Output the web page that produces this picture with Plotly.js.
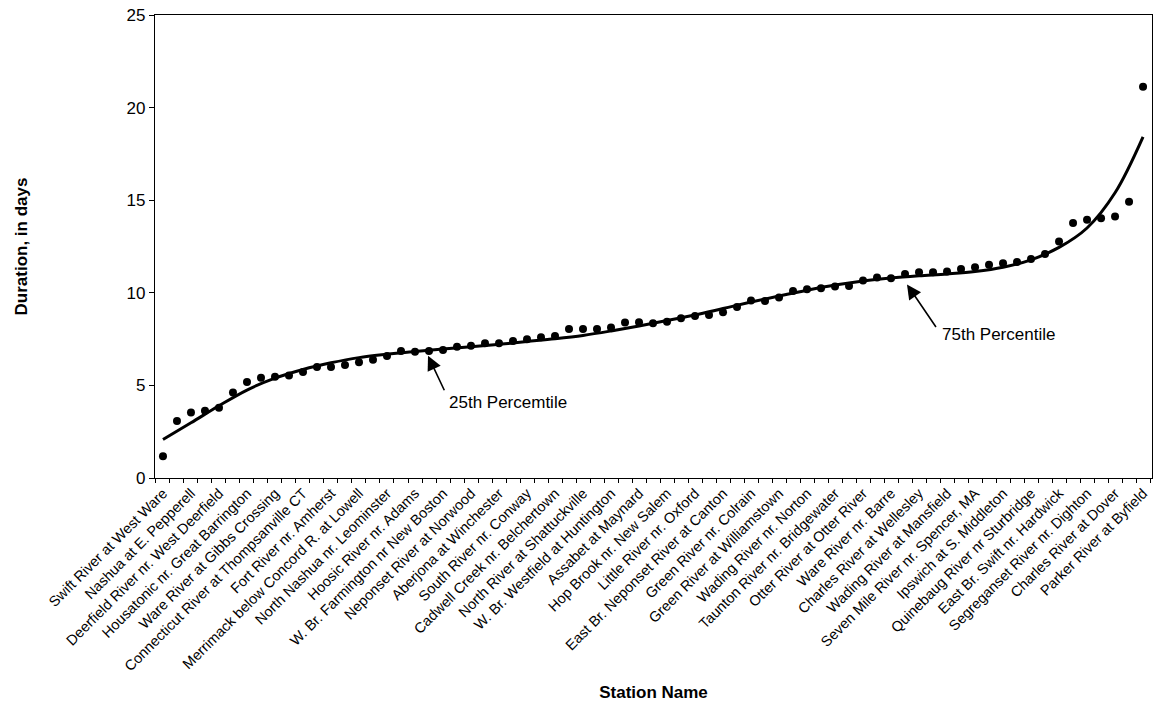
<!DOCTYPE html>
<html>
<head>
<meta charset="utf-8">
<script src="https://cdn.plot.ly/plotly-3.0.1.min.js"></script>
<style>html,body{margin:0;padding:0;background:#fff;}#chart{width:1155px;height:707px;}</style>
</head>
<body>
<div id="chart"></div>
<script>
// Labeled stations (every other station on the x axis carries a label)
const stationLabels = [
  "Swift River at West Ware", "Nashua at E. Pepperell", "Deerfield River nr. West Deerfield",
  "Housatonic nr. Great Barrington", "Ware River at Gibbs Crossing", "Connecticut River at Thompsanville CT",
  "Fort River nr. Amherst", "Merrimack below Concord R. at Lowell", "North Nashua nr. Leominster",
  "Hoosic River nr. Adams", "W. Br. Farmington nr New Boston", "Neponset River at Norwood",
  "Aberjona at Winchester", "South River nr. Conway", "Cadwell Creek nr. Belchertown",
  "North River at Shattuckville", "W. Br. Westfield at Huntington", "Assabet at Maynard",
  "Hop Brook nr. New Salem", "Little River nr. Oxford", "East Br. Neponset River at Canton",
  "Green River nr. Colrain", "Green River at Williamstown", "Wading River nr. Norton",
  "Taunton River nr. Bridgewater", "Otter River at Otter River", "Ware River nr. Barre",
  "Charles River at Wellesley", "Wading River at Mansfield", "Seven Mile River nr. Spencer, MA",
  "Ipswich at S. Middleton", "Quinebaug River nr Sturbridge", "East Br. Swift nr. Hardwick",
  "Segreganset River nr. Dighton", "Charles River at Dover", "Parker River at Byfield"
];

// Duration, in days, for each of the 71 stations (in rank order)
const durations = [
  1.17, 3.08, 3.54, 3.63, 3.79, 4.62, 5.18, 5.41, 5.47, 5.54,
  5.72, 6.00, 6.00, 6.10, 6.25, 6.38, 6.59, 6.86, 6.82, 6.86,
  6.91, 7.09, 7.14, 7.27, 7.27, 7.40, 7.49, 7.60, 7.67, 8.05,
  8.05, 8.05, 8.12, 8.39, 8.41, 8.35, 8.44, 8.62, 8.75, 8.80,
  8.95, 9.24, 9.58, 9.56, 9.74, 10.10, 10.19, 10.25, 10.34, 10.37,
  10.66, 10.82, 10.79, 11.02, 11.11, 11.11, 11.15, 11.29, 11.38, 11.51,
  11.60, 11.66, 11.83, 12.10, 12.77, 13.77, 13.94, 14.02, 14.12, 14.92,
  21.13
];

// Fitted trend curve read at every other station (labeled stations)
const trendValues = [
  2.08, 2.98, 3.90, 4.75, 5.39, 5.86, 6.22, 6.50, 6.68, 6.83,
  6.97, 7.09, 7.22, 7.37, 7.52, 7.70, 7.94, 8.21, 8.50, 8.80,
  9.15, 9.50, 9.83, 10.14, 10.42, 10.64, 10.80, 10.92, 11.02, 11.15,
  11.38, 11.78, 12.45, 13.50, 15.40, 18.42
];

const stationIndex = durations.map((_, i) => i);
const labelIndex = stationLabels.map((_, i) => i * 2);
const boundaries = durations.map((_, i) => i - 0.5).concat([durations.length - 0.5]);

const font = "Liberation Sans, Arial, Helvetica, sans-serif";

const traces = [
  {
    x: labelIndex, y: trendValues, type: "scatter", mode: "lines",
    line: {color: "#000", width: 3, shape: "spline", smoothing: 1},
    hoverinfo: "skip", showlegend: false
  },
  {
    x: stationIndex, y: durations, type: "scatter", mode: "markers",
    marker: {color: "#000", size: 8}, showlegend: false
  }
];

const layout = {
  width: 1155, height: 707,
  margin: {l: 155, r: 3, t: 15, b: 229},
  paper_bgcolor: "#fff", plot_bgcolor: "#fff",
  font: {family: font, color: "#000"},
  showlegend: false,
  xaxis: {
    range: [-0.57, 70.64],
    tickmode: "array", tickvals: labelIndex, ticktext: stationLabels,
    tickangle: -45, ticks: "", ticklen: 0,
    tickfont: {size: 14.5, family: font, color: "#000"},
    minor: {tickmode: "array", tickvals: boundaries, ticks: "outside", ticklen: 4, tickwidth: 1, tickcolor: "#000", showgrid: false},
    showgrid: false, zeroline: false,
    showline: true, linecolor: "#000", linewidth: 1.2, mirror: true,
    title: {text: "<b>Station Name</b>", font: {size: 17, family: font, color: "#000"}, standoff: 12}
  },
  yaxis: {
    range: [0, 25], dtick: 5, tick0: 0,
    ticks: "outside", ticklen: 5, tickwidth: 1, tickcolor: "#000",
    tickfont: {size: 17, family: font, color: "#000"},
    showgrid: false, zeroline: false,
    showline: true, linecolor: "#000", linewidth: 1.2, mirror: true,
    title: {text: "<b>Duration, in days</b>", font: {size: 17, family: font, color: "#000"}, standoff: 94}
  },
  annotations: [
    {x: 18.93, y: 6.6, xref: "x", yref: "y", text: "", showarrow: true,
     ax: 17, ay: 36, arrowhead: 2, arrowsize: 1.8, arrowwidth: 1.6, arrowcolor: "#000"},
    {x: 20.3, y: 4.1, xref: "x", yref: "y", text: "25th Percemtile", showarrow: false,
     xanchor: "left", yanchor: "middle", font: {size: 17, family: font, color: "#000"}},
    {x: 53.14, y: 10.45, xref: "x", yref: "y", text: "", showarrow: true,
     ax: 30, ay: 44, arrowhead: 2, arrowsize: 1.8, arrowwidth: 1.6, arrowcolor: "#000"},
    {x: 55.5, y: 7.75, xref: "x", yref: "y", text: "75th Percentile", showarrow: false,
     xanchor: "left", yanchor: "middle", font: {size: 17, family: font, color: "#000"}}
  ]
};

Plotly.newPlot("chart", traces, layout, {displayModeBar: false, staticPlot: true});
</script>
</body>
</html>
